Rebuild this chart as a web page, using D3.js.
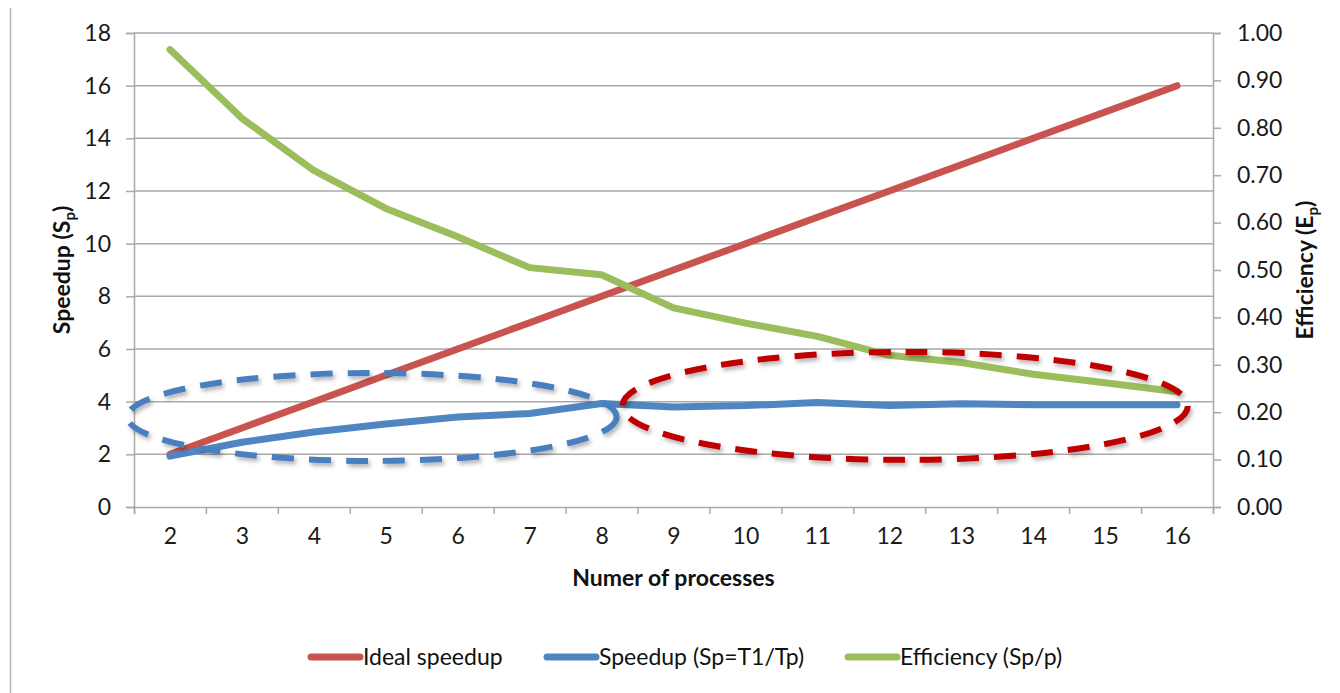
<!DOCTYPE html>
<html>
<head>
<meta charset="utf-8">
<script src="https://cdn.jsdelivr.net/npm/d3@7"></script>
<style>
  html, body { margin: 0; padding: 0; background: #fff; }
  svg { display: block; font-family: Lato, "Open Sans", "Liberation Sans", sans-serif; }
</style>
</head>
<body>
<svg id="chart" width="1340" height="693"></svg>
<script>
// Process counts on the x axis
const processes = [2, 3, 4, 5, 6, 7, 8, 9, 10, 11, 12, 13, 14, 15, 16];
// Ideal (linear) speedup
const idealSpeedup = [2, 3, 4, 5, 6, 7, 8, 9, 10, 11, 12, 13, 14, 15, 16];
// Measured speedup Sp = T1/Tp
const measuredSpeedup = [1.93, 2.46, 2.85, 3.15, 3.42, 3.55, 3.93, 3.80, 3.85, 3.97, 3.85, 3.92, 3.88, 3.88, 3.88];
// Efficiency Sp/p (right axis)
const efficiency = [0.965, 0.82, 0.71, 0.63, 0.57, 0.505, 0.49, 0.42, 0.388, 0.36, 0.32, 0.305, 0.28, 0.262, 0.243];
// Tick values
const leftTicks = [0, 2, 4, 6, 8, 10, 12, 14, 16, 18];
const rightTicks = [0, 0.1, 0.2, 0.3, 0.4, 0.5, 0.6, 0.7, 0.8, 0.9, 1.0];
// Highlight ellipses, in data units: [centre p, centre speedup, radius p, radius speedup]
const growthRegion = [4.81, 3.42, 3.40, 1.67];
const plateauRegion = [12.22, 3.84, 3.93, 2.05];

const svg = d3.select("#chart");
const plot = { left: 134, right: 1213, top: 33, bottom: 507 };
const gridColor = "#a9a9a9";
const fontSize = "23px";

const x = d3.scaleLinear().domain([1.5, 16.5]).range([plot.left, plot.right]);
const yL = d3.scaleLinear().domain([0, 18]).range([plot.bottom, plot.top]);
const yR = d3.scaleLinear().domain([0, 1]).range([plot.bottom, plot.top]);

// Shadow for the dashed highlights
const defs = svg.append("defs");
const f = defs.append("filter").attr("id", "shadow").attr("x", "-10%").attr("y", "-30%").attr("width", "120%").attr("height", "160%");
f.append("feDropShadow").attr("dx", 2).attr("dy", 3).attr("stdDeviation", 2)
  .attr("flood-color", "#000").attr("flood-opacity", 0.3);

// Frame line at far left
svg.append("line").attr("x1", 10.5).attr("x2", 10.5).attr("y1", 8).attr("y2", 693)
  .attr("stroke", "#b5b5b5").attr("stroke-width", 1.5);

// Horizontal gridlines
svg.append("g").selectAll("line").data(leftTicks.slice(1)).join("line")
  .attr("x1", plot.left).attr("x2", plot.right)
  .attr("y1", d => yL(d)).attr("y2", d => yL(d))
  .attr("stroke", gridColor).attr("stroke-width", 1.5);

// Left axis
const gL = svg.append("g").attr("transform", `translate(${plot.left},0)`)
  .call(d3.axisLeft(yL).tickValues(leftTicks).tickSize(8).tickPadding(15).tickFormat(d3.format("d")));
// Right axis
const gR = svg.append("g").attr("transform", `translate(${plot.right},0)`)
  .call(d3.axisRight(yR).tickValues(rightTicks).tickSize(8).tickPadding(16).tickFormat(d3.format(".2f")));
// Bottom axis: tick marks at category boundaries
const boundaries = d3.range(1.5, 17, 1);
const gB = svg.append("g").attr("transform", `translate(0,${plot.bottom})`)
  .call(d3.axisBottom(x).tickValues(boundaries).tickSize(7).tickFormat(""));
const gBL = svg.append("g").attr("transform", `translate(0,${plot.bottom})`)
  .call(d3.axisBottom(x).tickValues(processes).tickSize(0).tickPadding(21).tickFormat(d3.format("d")));
gBL.select(".domain").remove();

[gL, gR, gB].forEach(g => {
  g.select(".domain").attr("stroke", gridColor).attr("stroke-width", 1.5);
  g.selectAll(".tick line").attr("stroke", gridColor).attr("stroke-width", 1.5);
});
[gL, gR, gBL].forEach(g => {
  g.selectAll(".tick text").attr("fill", "#1a1a1a").style("font-size", fontSize)
    .style("font-family", "Lato, 'Open Sans', sans-serif");
});

// Axis titles
function subscriptTitle(t, main) {
  t.append("tspan").text(main);
  t.append("tspan").attr("dy", 5).style("font-size", "15px").text("p");
  t.append("tspan").attr("dy", -5).text(")");
}
svg.append("text").attr("transform", `translate(70,${(plot.top + plot.bottom) / 2}) rotate(-90)`)
  .attr("text-anchor", "middle").style("font-size", fontSize).style("font-weight", "bold").attr("fill", "#111")
  .call(t => subscriptTitle(t, "Speedup (S"));
svg.append("text").attr("transform", `translate(1313,${(plot.top + plot.bottom) / 2}) rotate(-90)`)
  .attr("text-anchor", "middle").style("font-size", fontSize).style("font-weight", "bold").attr("fill", "#111")
  .call(t => subscriptTitle(t, "Efficiency (E"));
svg.append("text").attr("x", (plot.left + plot.right) / 2).attr("y", 586)
  .attr("text-anchor", "middle").style("font-size", fontSize).style("font-weight", "bold").attr("fill", "#111")
  .text("Numer of processes");

// Series lines
const series = [
  { name: "Ideal speedup", values: idealSpeedup, y: yL, color: "#c9544f" },
  { name: "Speedup (Sp=T1/Tp)", values: measuredSpeedup, y: yL, color: "#4f86c2" },
  { name: "Efficiency (Sp/p)", values: efficiency, y: yR, color: "#9bbd5c" }
];
series.forEach(s => {
  const line = d3.line().x((d, i) => x(processes[i])).y(d => s.y(d));
  svg.append("path").datum(s.values).attr("d", line)
    .attr("fill", "none").attr("stroke", s.color).attr("stroke-width", 7)
    .attr("stroke-linejoin", "round").attr("stroke-linecap", "round");
});

// Dashed highlight ellipses
[[growthRegion, "#4a7fbf"], [plateauRegion, "#c00000"]].forEach(([r, c]) => {
  svg.append("ellipse")
    .attr("cx", x(r[0])).attr("cy", yL(r[1]))
    .attr("rx", x(r[0] + r[2]) - x(r[0])).attr("ry", yL(0) - yL(r[3]))
    .attr("fill", "none").attr("stroke", c).attr("stroke-width", 6)
    .attr("stroke-dasharray", "22,15").attr("filter", "url(#shadow)");
});

// Legend
const legendX = [308, 544, 845];
const lg = svg.append("g");
series.forEach((s, i) => {
  lg.append("line").attr("x1", legendX[i] + 3).attr("x2", legendX[i] + 52)
    .attr("y1", 657).attr("y2", 657).attr("stroke", s.color).attr("stroke-width", 7).attr("stroke-linecap", "round");
  lg.append("text").attr("x", legendX[i] + 55).attr("y", 665).style("font-size", fontSize).attr("fill", "#111").text(s.name);
});
</script>
</body>
</html>
